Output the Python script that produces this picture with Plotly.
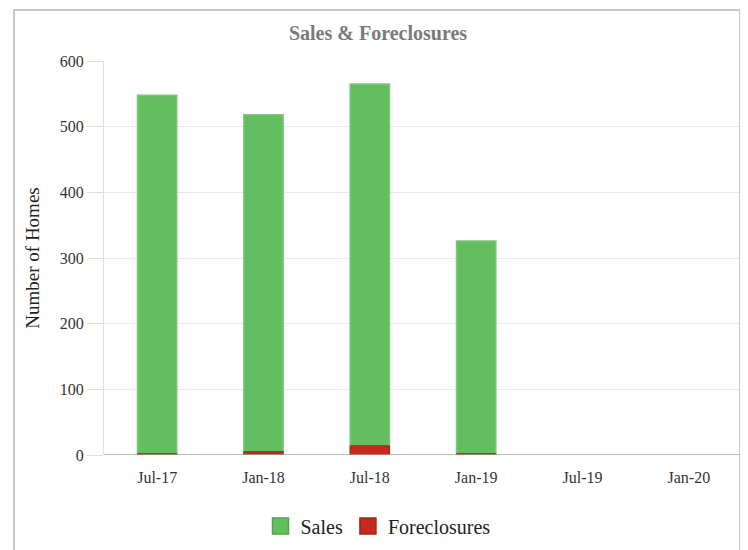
import plotly.graph_objects as go

categories = ["Jul-17", "Jan-18", "Jul-18", "Jan-19", "Jul-19", "Jan-20"]
sales = [548, 518, 565, 326, None, None]
foreclosures = [2, 5, 14, 2, None, None]
y_ticks = [0, 100, 200, 300, 400, 500, 600]

FONT = "Liberation Serif"
GREEN = "rgb(98,190,94)"
GREEN_EDGE = "rgb(130,196,126)"
RED = "#c62a1f"
RED_EDGE = "#a5231a"

# page body has an 8px default margin; compensate
OFF = 8
W, H = 748 - OFF, 550 - OFF
L, R, T, B = 104 - OFF, 6, 61 - OFF, 95
pw, ph = W - L - R, H - T - B

fig = go.Figure()
fig.add_trace(go.Bar(
    x=categories, y=sales, name="Sales", showlegend=False,
    marker=dict(color=GREEN, line=dict(color=GREEN_EDGE, width=1.5)),
    width=0.37,
))
fig.add_trace(go.Bar(
    x=categories, y=foreclosures, name="Foreclosures", showlegend=False,
    marker=dict(color=RED, line=dict(color=RED_EDGE, width=1)),
    width=0.37,
))
# legend entries (legend-only markers)
for nm, col, edge in [("Sales", GREEN, "#4aa845"), ("Foreclosures", RED, RED_EDGE)]:
    fig.add_trace(go.Scatter(
        x=[None], y=[None], mode="markers", name=nm,
        marker=dict(symbol="square", size=24, color=col, line=dict(color=edge, width=1.5)),
    ))

fig.update_layout(
    width=W, height=H,
    barmode="overlay",
    margin=dict(l=L, r=R, t=T, b=B),
    paper_bgcolor="white", plot_bgcolor="white",
    font=dict(family=FONT, color="#333333", size=16),
    title=dict(text="<b>Sales & Foreclosures</b>", x=0.5, xanchor="center", xref="container",
               y=1 - (33 - OFF) / H, yanchor="middle",
               font=dict(family=FONT, size=20, color="#7a7a7a")),
    showlegend=True,
    legend=dict(orientation="h", x=(378 - OFF) / W, xanchor="center", xref="container",
                y=(H - (526 - OFF)) / H, yref="container", yanchor="middle",
                font=dict(family=FONT, size=20, color="#222222"),
                itemsizing="trace", itemwidth=30),
    xaxis=dict(
        type="category", categoryorder="array", categoryarray=categories,
        range=[-0.5, 5.5],
        showgrid=False, ticks="outside", ticklen=8, tickcolor="rgba(0,0,0,0)",
        tickfont=dict(family=FONT, size=16, color="#333333"),
        showline=False, zeroline=False,
    ),
    yaxis=dict(
        range=[0, 600], tickvals=y_ticks,
        showgrid=True, gridcolor="#e8e8e8", gridwidth=1,
        ticks="outside", ticklen=16, tickcolor="#dddddd",
        tickfont=dict(family=FONT, size=16, color="#333333"),
        showline=True, linecolor="#e0e0e0", linewidth=1,
        zeroline=False,
        title=dict(text="Number of Homes", font=dict(family=FONT, size=19, color="#222222"),
                   standoff=15),
    ),
    shapes=[
        dict(type="line", xref="paper", yref="y", x0=0, x1=1, y0=0, y1=0,
             line=dict(color="#a0a0a0", width=1.5)),
        dict(type="rect", xref="paper", yref="paper",
             x0=(14 - 104) / pw, x1=(740 - 104) / pw, y0=-0.5, y1=(455 - 10) / ph,
             line=dict(color="#c8c8c8", width=2), fillcolor="rgba(0,0,0,0)", layer="above"),
    ],
)

fig.write_html("out.html")
